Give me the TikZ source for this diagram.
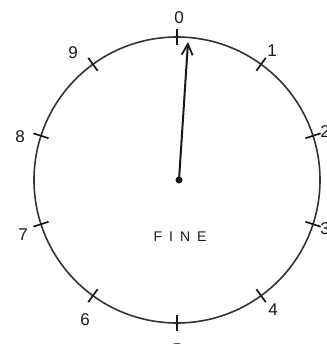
\documentclass[tikz,border=0pt]{standalone}
\usepackage{fontspec}
\setmainfont{Liberation Sans}
\usetikzlibrary{arrows.meta,calc}
\begin{document}
\begin{tikzpicture}[x=1pt,y=-1pt,
  dial/.style={line width=1.6pt, draw=black!80},
  tickmark/.style={line width=1.7pt, draw=black!90},
  num/.style={font=\fontsize{17}{17}\selectfont, inner sep=0pt, text=black!90},
  hand/.style={line width=2pt, draw=black!90, -{Straight Barb[length=11pt,width=11pt,line width=1.8pt]}},
  pivotdot/.style={circle, fill=black!90, inner sep=0pt, minimum size=7pt},
  label/.style={font=\fontsize{14}{14}\selectfont, inner sep=0pt, text=black!90}]
\useasboundingbox (0,0) rectangle (326,344);
\fill[white] (0,0) rectangle (326,344);
\coordinate (c) at (177,180);
\draw[dial] (c) circle[radius=143];
\foreach \i in {0,...,9} {
  \pgfmathsetmacro\a{36*\i-90}
  \draw[tickmark] ($(c)+(\a:135)$) -- ($(c)+(\a:151)$);
}
\node[num] (l0) at (179,18) {0};
\node[num] (l1) at (272,51) {1};
\node[num] (l2) at (325,132) {2};
\node[num] (l3) at (325,229) {3};
\node[num] (l4) at (273,310) {4};
\node[num] (l5) at (177,350) {5};
\node[num] (l6) at (85,320) {6};
\node[num] (l7) at (23,235) {7};
\node[num] (l8) at (20,137) {8};
\node[num] (l9) at (73,53) {9};
\node[pivotdot] (pivot) at (179,180) {};
\coordinate (tip) at (188,42);
\draw[hand] (pivot.center) -- (tip);
\node[label] (fine) at (180,237) {F\kern7ptI\kern7ptN\kern7ptE};
\end{tikzpicture}
\end{document}
